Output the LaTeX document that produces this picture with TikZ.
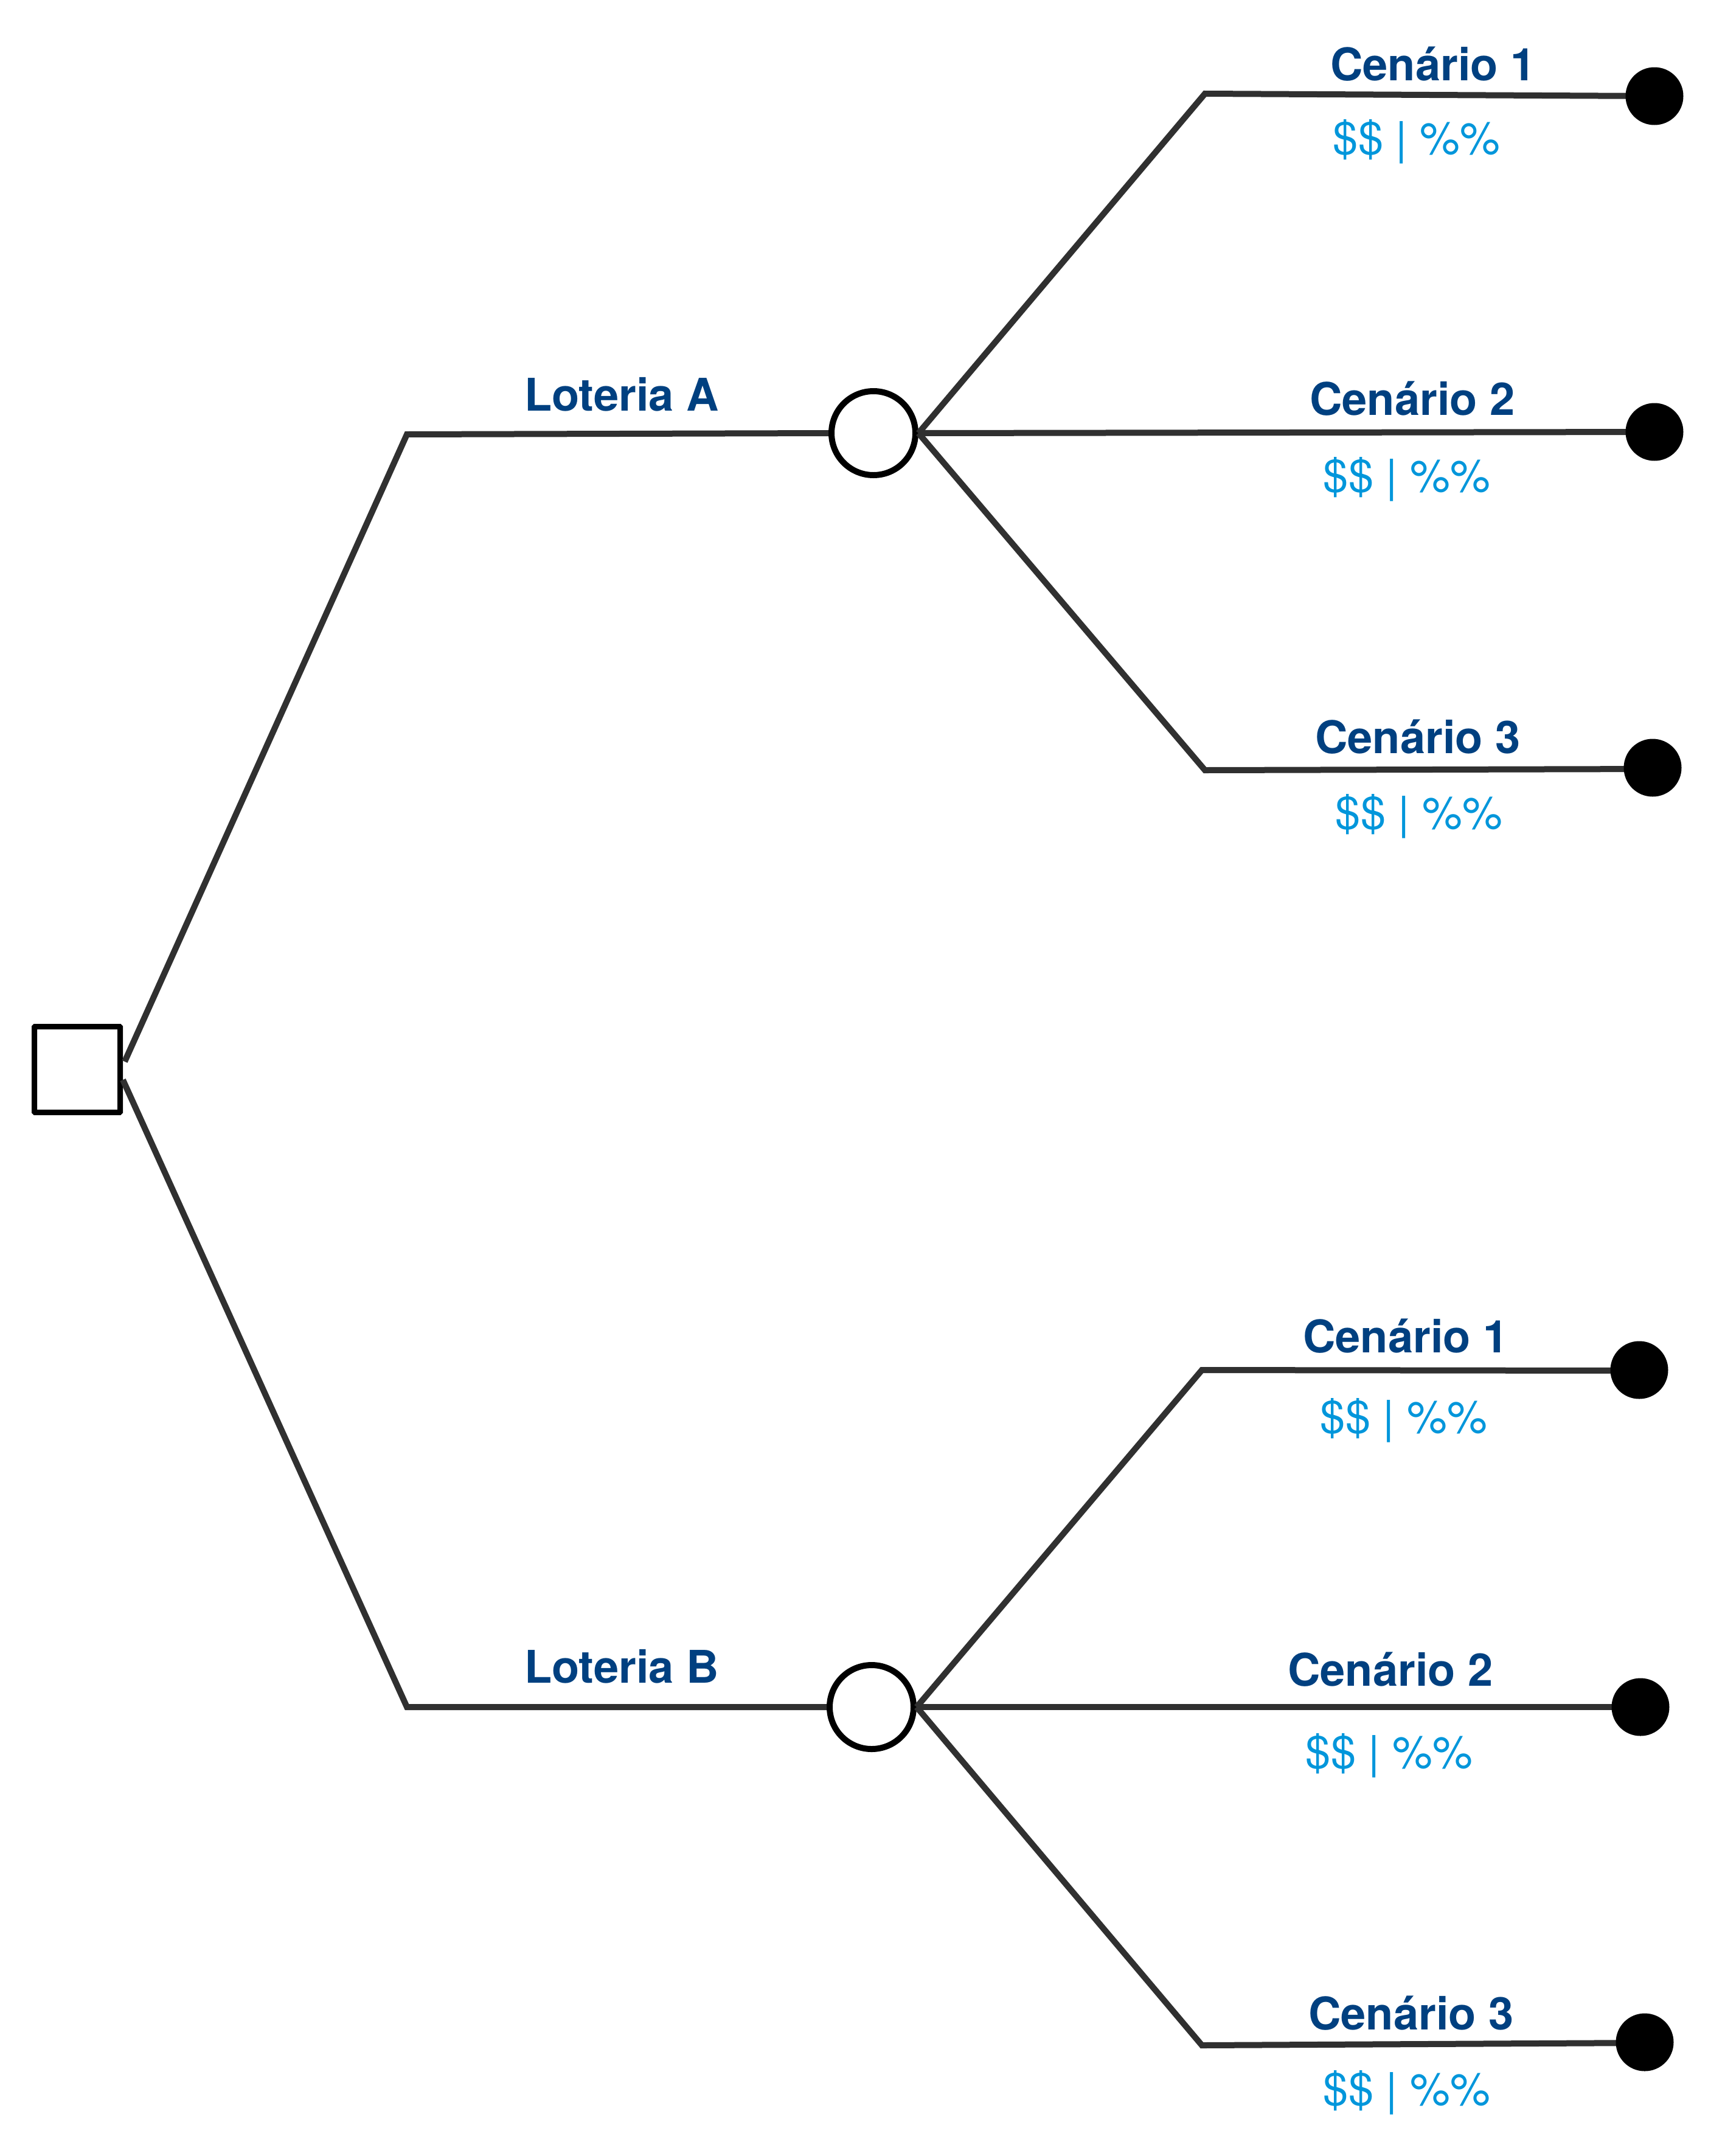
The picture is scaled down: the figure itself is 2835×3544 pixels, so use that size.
\documentclass[tikz,border=0pt]{standalone}
\usepackage{fontspec}
\setmainfont{TeX Gyre Heros}
\definecolor{ttl}{RGB}{0,64,128}
\definecolor{val}{RGB}{0,150,219}
\definecolor{edge}{RGB}{48,48,48}
\begin{document}
\begin{tikzpicture}[x=1pt,y=-1pt,
  conn/.style={draw=edge,line width=10pt},
  decision/.style={draw=black,fill=white,line width=9pt,minimum size=141pt,inner sep=0pt,rectangle,rounded corners=1pt},
  chance/.style={draw=black,fill=white,line width=10pt,minimum size=138pt,inner sep=0pt,circle},
  terminal/.style={fill=black,minimum size=95pt,inner sep=0pt,circle},
  ttltxt/.style={text=ttl,font=\fontsize{74}{80}\selectfont\bfseries,anchor=base,inner sep=0pt},
  valtxt/.style={text=val,font=\fontsize{74}{80}\selectfont,anchor=base,inner sep=0pt}]
\useasboundingbox (0,0) rectangle (2835,3544);
% nodes
\node[decision] (sq) at (127,1758) {};
\node[chance] (ca) at (1436,712) {};
\node[chance] (cb) at (1433,2806) {};
\coordinate (s1) at (205,1745);
\coordinate (s2) at (202,1775);
\coordinate (a0) at (669,714);
\coordinate (b0) at (669,2806);
\coordinate (a1) at (1981,154);
\coordinate (a3) at (1981,1266);
\coordinate (b1) at (1976,2252);
\coordinate (b3) at (1976,3362);
\coordinate (ae1) at (2720,158);
\coordinate (ae2) at (2720,710);
\coordinate (ae3) at (2717,1264);
\coordinate (be1) at (2668,2253);
\coordinate (be2) at (2668,2806);
\coordinate (be3) at (2704,3358);
% connectors
\draw[conn] (s1) -- (a0) -- (ca.west);
\draw[conn] (s2) -- (b0) -- (cb.west);
\draw[conn] (ca.east) -- (a1) -- (ae1);
\draw[conn] (ca.east) -- (ae2);
\draw[conn] (ca.east) -- (a3) -- (ae3);
\draw[conn] (cb.east) -- (b1) -- (be1);
\draw[conn] (cb.east) -- (be2);
\draw[conn] (cb.east) -- (b3) -- (be3);
% terminals
\node[terminal] (ta1) at (2720,158) {};
\node[terminal] (ta2) at (2720,710) {};
\node[terminal] (ta3) at (2717,1262) {};
\node[terminal] (tb1) at (2695,2252) {};
\node[terminal] (tb2) at (2697,2806) {};
\node[terminal] (tb3) at (2704,3357) {};
% labels
\node[ttltxt] (la) at (1022,675) {Loteria A};
\node[ttltxt] (lb) at (1022,2766) {Loteria B};
\node[ttltxt] (ca1) at (2356,132) {Cenário 1};
\node[valtxt] (va1) at (2329,253) {\$\$ | \%\%};
\node[ttltxt] (ca2) at (2322,682) {Cenário 2};
\node[valtxt] (va2) at (2313,808) {\$\$ | \%\%};
\node[ttltxt] (ca3) at (2331,1238) {Cenário 3};
\node[valtxt] (va3) at (2333,1362) {\$\$ | \%\%};
\node[ttltxt] (cb1) at (2311,2223) {Cenário 1};
\node[valtxt] (vb1) at (2308,2355) {\$\$ | \%\%};
\node[ttltxt] (cb2) at (2286,2771) {Cenário 2};
\node[valtxt] (vb2) at (2284,2906) {\$\$ | \%\%};
\node[ttltxt] (cb3) at (2320,3336) {Cenário 3};
\node[valtxt] (vb3) at (2313,3460) {\$\$ | \%\%};
\end{tikzpicture}
\end{document}
